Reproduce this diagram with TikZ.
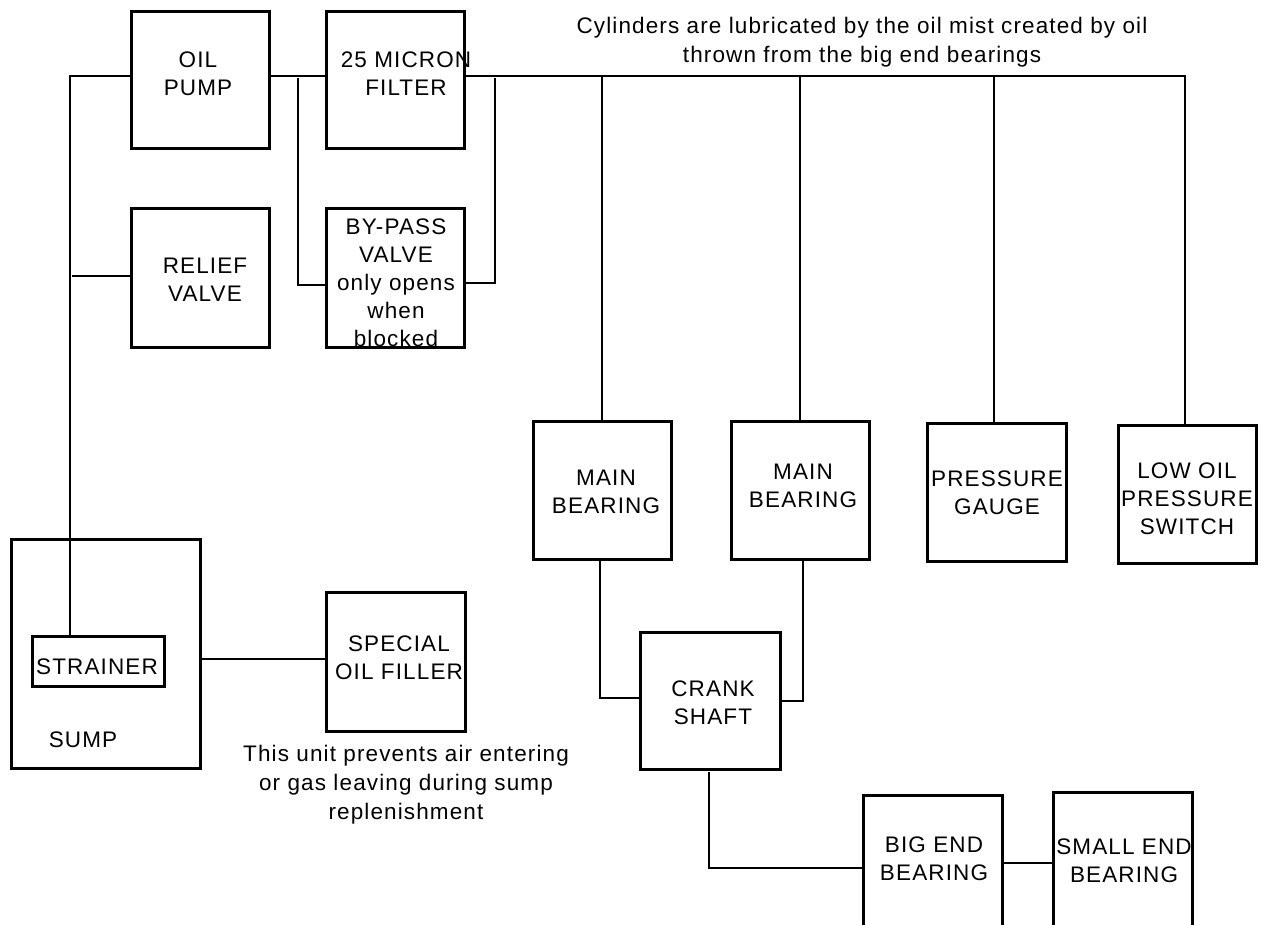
\documentclass[tikz,border=0pt]{standalone}
\usepackage{fontspec}
\setmainfont{Liberation Sans}
\newfontfamily\labfont[LetterSpace=5]{Liberation Sans}
\begin{document}
\begin{tikzpicture}[x=1pt,y=-1pt,
  box/.style={draw=black,line width=3pt,rectangle,inner sep=0pt},
  conn/.style={draw=black,line width=2pt},
  lab/.style={align=center,inner sep=0pt,font=\labfont\fontsize{22.5}{28}\selectfont},
  note/.style={align=center,inner sep=0pt,font=\labfont\fontsize{22.5}{29}\selectfont}]
\useasboundingbox (0,0) rectangle (1261,925);
\clip (0,0) rectangle (1261,925);
\fill[white] (0,0) rectangle (1261,925);
% boxes
\node[box,minimum width=138pt,minimum height=137pt] (pump) at (200,80.5) {};
\node[box,minimum width=138pt,minimum height=137pt] (filter) at (395,80.5) {};
\node[box,minimum width=138pt,minimum height=138pt] (relief) at (200,278) {};
\node[box,minimum width=138pt,minimum height=138pt] (bypass) at (395,278) {};
\node[box,minimum width=189pt,minimum height=229pt] (sump) at (105.5,653.5) {};
\node[box,minimum width=132pt,minimum height=50pt] (strainer) at (98,661) {};
\node[box,minimum width=139pt,minimum height=139pt] (filler) at (395.5,661.5) {};
\node[box,minimum width=138pt,minimum height=138pt] (mb1) at (602,490) {};
\node[box,minimum width=138pt,minimum height=138pt] (mb2) at (800,490) {};
\node[box,minimum width=139pt,minimum height=138pt] (gauge) at (996.5,492) {};
\node[box,minimum width=138pt,minimum height=138pt] (lowoil) at (1187,494) {};
\node[box,minimum width=140pt,minimum height=137pt] (crank) at (710,700.5) {};
\node[box,minimum width=139pt,minimum height=138pt] (bigend) at (932.5,864) {};
\node[box,minimum width=139pt,minimum height=138pt] (smallend) at (1122.5,861) {};
% junction coordinates
\coordinate (jl) at (70,76);
\coordinate (jr) at (72,276);
\coordinate (bpl) at (298,78);
\coordinate (bpr) at (495,78);
\coordinate (rend) at (1185,76);
\coordinate (c1) at (602,76);
\coordinate (c2) at (800,76);
\coordinate (c3) at (994,76);
\coordinate (m1) at (600,698);
\coordinate (m2) at (803,701);
\coordinate (cb) at (709,772);
\coordinate (sr) at (202,659);
% connectors
\draw[conn] (pump.west |- jl) -- (jl) -- (jl |- strainer.north);
\draw[conn] (jr) -- (relief.west |- jr);
\draw[conn] (pump.east |- jl) -- (filter.west |- jl);
\draw[conn] (filter.east |- jl) -- (rend) -- (rend |- lowoil.north);
\draw[conn] (c1) -- (c1 |- mb1.north);
\draw[conn] (c2) -- (c2 |- mb2.north);
\draw[conn] (c3) -- (c3 |- gauge.north);
\draw[conn] (bpl) -- (298,285) -- (bypass.west |- 0,285);
\draw[conn] (bypass.east |- 0,283) -- (495,283) -- (bpr);
\draw[conn] (m1 |- mb1.south) -- (m1) -- (crank.west |- m1);
\draw[conn] (m2 |- mb2.south) -- (m2) -- (crank.east |- m2);
\draw[conn] (cb) -- (709,868) -- (bigend.west |- 0,868);
\draw[conn] (bigend.east |- 0,863) -- (smallend.west |- 0,863);
\draw[conn] (sr) -- (filler.west |- sr);
% texts
\node[lab] (tpump) at (198,74) {OIL\\PUMP};
\node[lab] (tfilter) at (406,74) {25 MICRON\\FILTER};
\node[lab] (trelief) at (205,280) {RELIEF\\VALVE};
\node[lab] (tbypass) at (396,283) {BY-PASS\\VALVE\\only opens\\when\\blocked};
\node[lab] (tstrainer) at (97,667) {STRAINER};
\node[lab] (tsump) at (83,740) {SUMP};
\node[lab] (tfiller) at (399,658) {SPECIAL\\OIL FILLER};
\node[lab] (tmb1) at (606,492) {MAIN\\BEARING};
\node[lab] (tmb2) at (803,486) {MAIN\\BEARING};
\node[lab] (tgauge) at (997,493) {PRESSURE\\GAUGE};
\node[lab] (tlow) at (1187,499) {LOW OIL\\PRESSURE\\SWITCH};
\node[lab] (tcrank) at (713,703) {CRANK\\SHAFT};
\node[lab] (tbig) at (934,859) {BIG END\\BEARING};
\node[lab] (tsmall) at (1124,861) {SMALL END\\BEARING};
\node[note] (ncyl) at (862,42) {Cylinders are lubricated by the oil mist created by oil\\thrown from the big end bearings};
\node[note] (nfill) at (406,785) {This unit prevents air entering\\or gas leaving during sump\\replenishment};
\end{tikzpicture}
\end{document}
